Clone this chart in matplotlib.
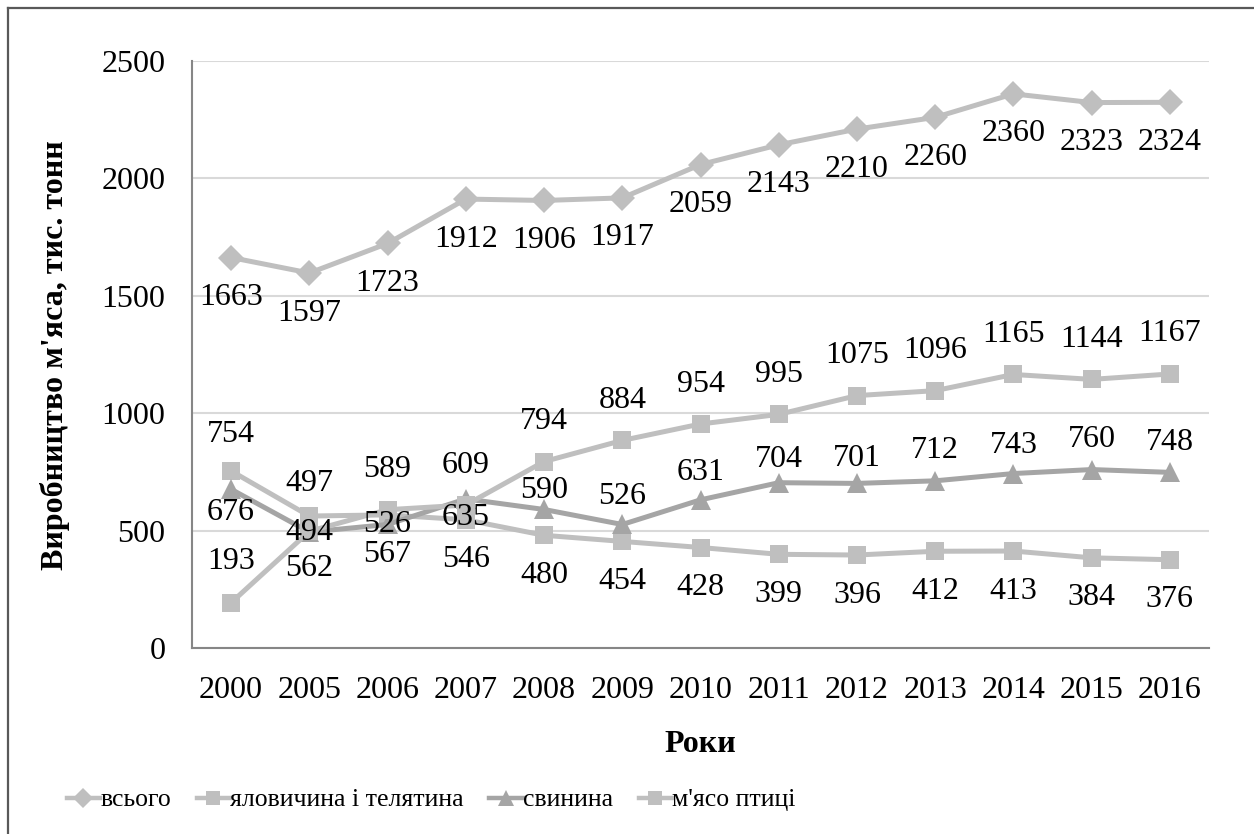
import matplotlib
matplotlib.use('Agg')
import matplotlib.pyplot as plt
from matplotlib.lines import Line2D

years = ['2000', '2005', '2006', '2007', '2008', '2009', '2010',
         '2011', '2012', '2013', '2014', '2015', '2016']
total = [1663, 1597, 1723, 1912, 1906, 1917, 2059, 2143, 2210, 2260, 2360, 2323, 2324]
beef = [754, 562, 567, 546, 480, 454, 428, 399, 396, 412, 413, 384, 376]
pork = [676, 494, 526, 635, 590, 526, 631, 704, 701, 712, 743, 760, 748]
poultry = [193, 497, 589, 609, 794, 884, 954, 995, 1075, 1096, 1165, 1144, 1167]
names = ['всього', 'яловичина і телятина', 'свинина', "м'ясо птиці"]

# зсув підписів у пікселях (як вручну розставлено в Excel)
off_total = [-40] * 13
off_beef = [36, -52] + [-40] * 11
off_pork = [-23, 0, 0, -19, 19, 28, 27, 23, 25, 30, 28, 30, 30]
off_poultry = [41, 48] + [40] * 11

plt.rcParams['font.family'] = ['Liberation Serif', 'DejaVu Serif']
FS = 23

fig = plt.figure(figsize=(12.54, 8.34), dpi=100)
ax = fig.add_axes([192 / 1254, 1 - 648 / 834, (1209 - 192) / 1254, (648 - 61) / 834])

x = list(range(len(years)))
series = [
    (total, 'D', 13, '#BFBFBF', off_total),
    (beef, 's', 13, '#BFBFBF', off_beef),
    (pork, '^', 14, '#A5A5A5', off_pork),
    (poultry, 's', 13, '#BFBFBF', off_poultry),
]
handles = []
for (vals, mk, ms, col, offs), name in zip(series, names):
    ax.plot(x, vals, color=col, lw=3.6, marker=mk, markersize=ms,
            markeredgewidth=0, solid_capstyle='round', zorder=3)
    for xi, v, d in zip(x, vals, offs):
        ax.annotate(str(v), (xi, v), xytext=(0, d), textcoords='offset pixels',
                    ha='center', va='center', fontsize=FS, color='black', zorder=5)
    handles.append(Line2D([0], [0], color=col, lw=3.2, marker=mk, markersize=ms * 0.8,
                          markeredgewidth=0))

ax.set_xlim(-0.5, len(years) - 0.5)
ax.set_ylim(0, 2500)
ax.set_yticks([0, 500, 1000, 1500, 2000, 2500])
ax.set_xticks(x)
ax.set_xticklabels(years)
ax.grid(axis='y', color='#D9D9D9', lw=1.5, zorder=0)
ax.set_axisbelow(True)
for s in ['top', 'right']:
    ax.spines[s].set_visible(False)
for s in ['left', 'bottom']:
    ax.spines[s].set_color('#868686')
    ax.spines[s].set_linewidth(1.5)
ax.tick_params(axis='both', length=0, labelsize=FS)
ax.tick_params(axis='x', pad=20)
ax.tick_params(axis='y', pad=19)

fig.text(55 / 1254, 1 - 355 / 834, "Виробництво м'яса, тис. тонн", rotation=90,
         ha='center', va='center', fontsize=FS, fontweight='bold')
fig.text(700 / 1254, 1 - 745 / 834, 'Роки', ha='center', va='center',
         fontsize=FS, fontweight='bold')

fig.legend(handles, names, loc='center', bbox_to_anchor=(431 / 1254, 1 - 800 / 834),
           ncol=4, frameon=False, fontsize=18.5, handlelength=1.3, handletextpad=0.0,
           columnspacing=1.0, borderaxespad=0)

# рамка діаграми (видно лише верх і ліву сторону)
fig.add_artist(Line2D([8 / 1254, 8 / 1254], [0, 1 - 8 / 834], color='#595959', lw=1.6))
fig.add_artist(Line2D([8 / 1254, 1], [1 - 8 / 834, 1 - 8 / 834], color='#595959', lw=1.6))

fig.savefig('out.png', dpi=100, facecolor='white')
